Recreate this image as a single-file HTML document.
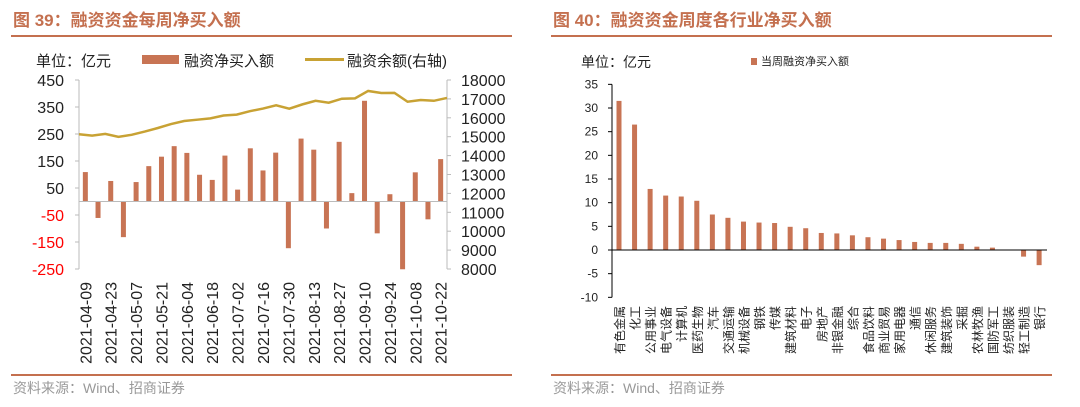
<!DOCTYPE html>
<html><head><meta charset="utf-8"><style>
body{margin:0;background:#fff;width:1080px;height:402px;overflow:hidden;font-family:"Liberation Sans","Noto Sans CJK SC",sans-serif}
svg text{font-family:"Liberation Sans","Noto Sans CJK SC",sans-serif}
</style></head><body>
<svg id="c" width="1080" height="402">
<g>
<text x="13" y="26" font-size="17" font-weight="bold" fill="#c4704f">图 39：融资资金每周净买入额</text>
<rect x="11" y="35" width="501" height="2" fill="#c4704f"/>
<text x="36" y="66" font-size="15" fill="#222">单位：亿元</text>
<rect x="142" y="55" width="37" height="9" fill="#c87454"/>
<text x="184" y="66" font-size="15" fill="#222">融资净买入额</text>
<rect x="305" y="58" width="39" height="3" fill="#c8a234"/>
<text x="347" y="66" font-size="15" fill="#222">融资余额(右轴)</text>
<g id="L"></g>
<rect x="11" y="374" width="501" height="2" fill="#c4704f"/>
<text x="13" y="393" font-size="14" fill="#999">资料来源：Wind、招商证券</text>
</g>
<g>
<text x="553" y="26" font-size="17" font-weight="bold" fill="#c4704f">图 40：融资资金周度各行业净买入额</text>
<rect x="551" y="35" width="501" height="2" fill="#c4704f"/>
<text x="581" y="67" font-size="14" fill="#222">单位：亿元</text>
<rect x="751" y="58" width="6" height="7" fill="#c87454"/>
<text x="761" y="65" font-size="11" fill="#222">当周融资净买入额</text>
<g id="R"></g>
<rect x="551" y="374" width="501" height="2" fill="#c4704f"/>
<text x="553" y="393" font-size="14" fill="#999">资料来源：Wind、招商证券</text>
</g>
</svg>
<script>
const weekDates=["2021-04-09","2021-04-16","2021-04-23","2021-04-30","2021-05-07","2021-05-14","2021-05-21","2021-05-28","2021-06-04","2021-06-11","2021-06-18","2021-06-25","2021-07-02","2021-07-09","2021-07-16","2021-07-23","2021-07-30","2021-08-06","2021-08-13","2021-08-20","2021-08-27","2021-09-03","2021-09-10","2021-09-17","2021-09-24","2021-10-01","2021-10-08","2021-10-15","2021-10-22"];
const netBuy=[109,-61,76,-132,72,131,166,205,180,99,80,170,44,197,115,181,-173,233,192,-100,221,31,373,-118,27,-251,108,-66,157];
const balance=[15130,15060,15150,14990,15100,15270,15460,15670,15830,15900,15970,16120,16170,16350,16490,16660,16480,16710,16900,16800,17010,17030,17420,17310,17320,16850,16940,16900,17050];
const leftTicks=[450,350,250,150,50,-50,-150,-250];
const rightTicks=[18000,17000,16000,15000,14000,13000,12000,11000,10000,9000,8000];
const industries=["有色金属","化工","公用事业","电气设备","计算机","医药生物","汽车","交通运输","机械设备","钢铁","传媒","建筑材料","电子","房地产","非银金融","综合","食品饮料","商业贸易","家用电器","通信","休闲服务","建筑装饰","采掘","农林牧渔","国防军工","纺织服装","轻工制造","银行"];
const indValues=[31.5,26.5,12.9,11.5,11.3,10.4,7.5,6.8,6.0,5.8,5.7,4.9,4.6,3.6,3.5,3.1,2.7,2.4,2.1,1.7,1.5,1.5,1.3,0.7,0.5,0.0,-1.4,-3.2];
const indTicks=[35,30,25,20,15,10,5,0,-5,-10];
const NS="http://www.w3.org/2000/svg";
function mk(p,t,a){const e=document.createElementNS(NS,t);for(const k in a)e.setAttribute(k,a[k]);p.appendChild(e);return e;}
const L=document.getElementById('L');
const yL=v=>80+(450-v)*(189/700);
const yR=v=>80+(18000-v)*(189/10000);
const n=netBuy.length;
const xL=i=>79+(i+0.5)*(368/n);
const xLine=i=>79+i*(368/(balance.length-1));
let e=mk(L,'line',{x1:79,y1:80,x2:79,y2:269,stroke:'#bbb','stroke-width':1});

e=mk(L,'line',{x1:447,y1:80,x2:447,y2:269,stroke:'#bbb','stroke-width':1});

leftTicks.forEach(v=>{
 mk(L,'line',{x1:75,x2:79,y1:yL(v),y2:yL(v),stroke:'#bbb'});
 const t=mk(L,'text',{x:64,y:yL(v)+6,'font-size':16,'text-anchor':'end',fill:v<0?'#f00':'#222'});t.textContent=v;
 
});
rightTicks.forEach(v=>{
 mk(L,'line',{x1:447,x2:451,y1:yR(v),y2:yR(v),stroke:'#bbb'});
 const t=mk(L,'text',{x:461,y:yR(v)+6,'font-size':16,fill:'#222'});t.textContent=v;
 
});
netBuy.forEach((v,i)=>{
 const y0=yL(0),y1=yL(v);
 const r=mk(L,'rect',{x:xL(i)-2.5,y:Math.min(y0,y1),width:5,height:Math.abs(y1-y0),fill:'#c87454'});
 
});
e=mk(L,'line',{x1:79,x2:447,y1:yL(0),y2:yL(0),stroke:'#bbb'});

e=mk(L,'polyline',{points:balance.map((v,i)=>xLine(i)+','+yR(v)).join(' '),fill:'none',stroke:'#c8a234','stroke-width':2.5});

weekDates.forEach((d,i)=>{if(i%2)return;
 const t=mk(L,'text',{transform:`translate(${xL(i)+6},282) rotate(-90)`,'font-size':16,'text-anchor':'end',fill:'#222'});t.textContent=d;
 
});
const R=document.getElementById('R');
const yI=v=>250-v*4.733;
const xI=i=>619+i*15.56;
e=mk(R,'line',{x1:612,y1:yI(35),x2:612,y2:yI(-10),stroke:'#000'});

indTicks.forEach(v=>{
 mk(R,'line',{x1:608,x2:612,y1:yI(v),y2:yI(v),stroke:'#000'});
 const t=mk(R,'text',{x:598,y:yI(v)+4,'font-size':12,'text-anchor':'end',fill:'#222'});t.textContent=v;
 
});
indValues.forEach((v,i)=>{
 const y0=yI(0),y1=yI(v);
 const r=mk(R,'rect',{x:xI(i)-2.5,y:Math.min(y0,y1),width:5,height:Math.abs(y1-y0),fill:'#c87454'});
 
});
e=mk(R,'line',{x1:612,x2:1047,y1:yI(0),y2:yI(0),stroke:'#000'});

industries.forEach((nm,i)=>{
 const t=mk(R,'text',{transform:`translate(${xI(i)+5},306) rotate(-90)`,'font-size':12,'text-anchor':'end',fill:'#222'});t.textContent=nm;
 
});
</script>
</body></html>
